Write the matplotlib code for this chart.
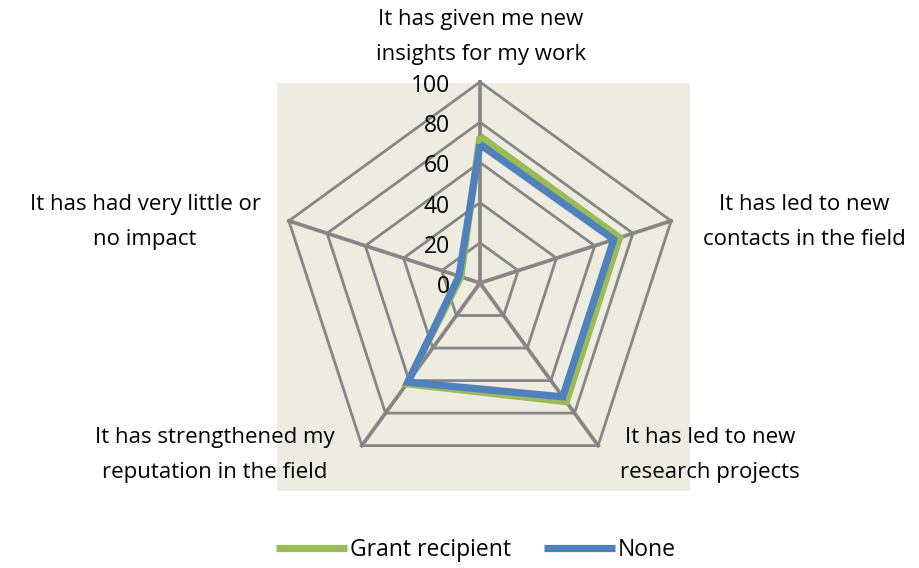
import numpy as np
import matplotlib
matplotlib.use("Agg")
import matplotlib.pyplot as plt
from matplotlib.patches import Rectangle
import matplotlib.transforms as mtransforms

categories = [
    "It has given me new\ninsights for my work",
    "It has led to new\ncontacts in the field",
    "It has led to new\nresearch projects",
    "It has strengthened my\nreputation in the field",
    "It has had very little or\nno impact",
]
series_names = ["Grant recipient", "None"]
grant = [73, 73, 73, 62, 10]
none = [69, 70, 70, 61, 11]
r_ticks = [0, 20, 40, 60, 80, 100]

plt.rcParams['font.family'] = ['Open Sans', 'DejaVu Sans']

W, H = 920, 568
fig = plt.figure(figsize=(W / 100, H / 100), dpi=100)
fig.patch.set_facecolor('white')

# beige plot area
bg = Rectangle((277 / W, 1 - 491 / H), 413 / W, 408 / H,
               transform=fig.transFigure, facecolor='#EEEBE0',
               edgecolor='none', zorder=-5)
fig.patches.append(bg)

cx, cy, R = 480, 283, 201
ax = fig.add_axes([(cx - R) / W, 1 - (cy + R) / H, 2 * R / W, 2 * R / H],
                  projection='polar')
ax.set_zorder(2)
ax.patch.set_visible(False)
ax.spines['polar'].set_visible(False)
ax.set_theta_offset(np.pi / 2)
ax.set_theta_direction(-1)
ax.set_ylim(0, 100)
ax.grid(False)
ax.set_xticks([])
ax.set_yticks([])

n = len(categories)
angles = np.linspace(0, 2 * np.pi, n, endpoint=False)
closed = np.concatenate([angles, angles[:1]])

gridc = '#868686'
for r in r_ticks[1:]:
    ax.plot(closed, [r] * (n + 1), color=gridc, lw=2.0, zorder=2,
            solid_joinstyle='miter', clip_on=False)
for a in angles:
    ax.plot([a, a], [0, 100], color=gridc, lw=2.7, zorder=2, clip_on=False)

colors = ['#9BBB59', '#4F81BD']
for vals, col, name in zip([grant, none], colors, series_names):
    v = np.concatenate([vals, vals[:1]])
    ax.plot(closed, v, color=col, lw=5.2, zorder=3, label=name,
            solid_joinstyle='miter', solid_capstyle='butt', clip_on=False)

# radial tick labels
off = mtransforms.ScaledTranslation(-0.30, -0.04, fig.dpi_scale_trans)
for r in r_ticks:
    ax.text(0, r, str(r), transform=ax.transData + off, ha='right',
            va='center', fontsize=16.5, color='black', zorder=5)

# category labels
label_pos = [(481, 37), (804, 222), (710, 455), (215, 455), (145, 222)]
for lab, (x, y) in zip(categories, label_pos):
    fig.text(x / W, 1 - y / H, lab, ha='center', va='center', fontsize=16,
             linespacing=1.85, color='black', zorder=6)

handles, labels = ax.get_legend_handles_labels()
fig.legend(handles, labels, loc='center', bbox_to_anchor=(476 / W, 1 - 550 / H),
           ncol=2, frameon=False, fontsize=16.5, handlelength=3.1,
           handletextpad=0.15, columnspacing=1.4)

fig.savefig('out.png', dpi=100, facecolor='white')
